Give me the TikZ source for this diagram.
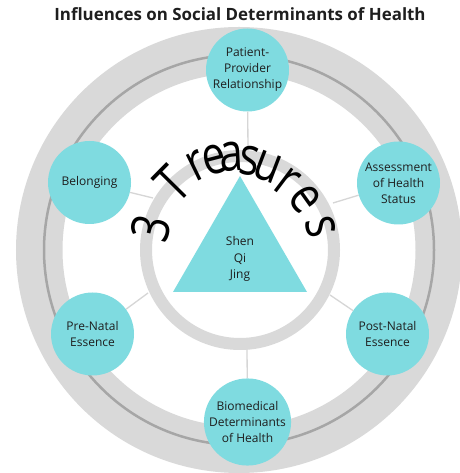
\documentclass[tikz,border=0pt]{standalone}
\usepackage{fontspec}
\setmainfont{Open Sans}
\newfontfamily\osans{Open Sans}
\definecolor{teal1}{RGB}{127,219,224}
\definecolor{band}{RGB}{217,217,217}
\definecolor{darkline}{RGB}{166,166,166}
\definecolor{spoke}{RGB}{214,214,214}
\definecolor{ink}{RGB}{30,30,30}
\tikzset{
  bubble/.style={circle, fill=teal1, minimum size=83pt, inner sep=0pt, align=center,
    text=ink, font=\osans\fontsize{12}{16}\selectfont},
  spokeline/.style={draw=spoke, line width=1.3pt},
  letter/.style={inner sep=0pt, text=black, font=\osans\fontsize{53}{53}\selectfont},
}
\begin{document}
\begin{tikzpicture}[x=1pt,y=1pt]
\useasboundingbox (0,0) rectangle (459,473);
\fill[white] (0,0) rectangle (459,473);
\coordinate (C) at (239,223);
\coordinate (I) at (240,223);
% outer band
\draw[band, line width=46.5pt] (C) circle[radius=199.75];
\draw[darkline, line width=2.5pt] (C) circle[radius=195];
% title
\node[anchor=base, text=ink, font=\osans\bfseries\fontsize{16.9}{20}\selectfont] (title) at (240,452) {Influences on Social Determinants of Health};
% bubbles
\node[bubble] (ppr) at (247.5,403) {Patient-\\Provider\\Relationship};
\node[bubble] (bel) at (89.5,290.5) {Belonging};
\node[bubble] (ahs) at (398.5,290) {Assessment\\of Health\\Status};
\node[bubble] (pre) at (92.5,139) {Pre-Natal\\Essence};
\node[bubble] (post) at (387.5,139) {Post-Natal\\Essence};
\node[bubble] (bio) at (247.5,51) {Biomedical\\Determinants\\of Health};
% spoke ends on inner ring
\coordinate (sTop) at (248,318);
\coordinate (sBot) at (247,128);
\coordinate (sBel) at (153,275);
\coordinate (sAhs) at (333,270);
\coordinate (sPre) at (148,180);
\coordinate (sPost) at (330,178);
\draw[spokeline] (ppr) -- (sTop);
\draw[spokeline] (bio) -- (sBot);
\draw[spokeline] (bel) -- (sBel);
\draw[spokeline] (ahs) -- (sAhs);
\draw[spokeline] (pre) -- (sPre);
\draw[spokeline] (post) -- (sPost);
% inner ring
\draw[band, line width=12pt] (I) circle[radius=94];
% triangle
\coordinate (tA) at (240,297);
\coordinate (tB) at (173,181);
\coordinate (tC) at (307,181);
\fill[teal1] (tA) -- (tB) -- (tC) -- cycle;
\node[align=center, text=ink, font=\osans\fontsize{12}{16.5}\selectfont] (tri) at (240,214) {Shen\\Qi\\Jing};
% curved text "3 Treasures", letter by letter
\foreach \ch/\x/\y/\r [count=\i] in {3/151/245/76.5, T/172/289/45.4, r/197/307/26,
    e/214/313/14.6, a/232/316/3, s/249/312/-8, u/268/306/-21, r/287/291/-37,
    e/305/274/-54.6, s/321/246/-76}
  \node[letter, rotate=\r] (l\i) at (\x,\y) {\scalebox{0.8}[1]{\ch}};
\end{tikzpicture}
\end{document}
